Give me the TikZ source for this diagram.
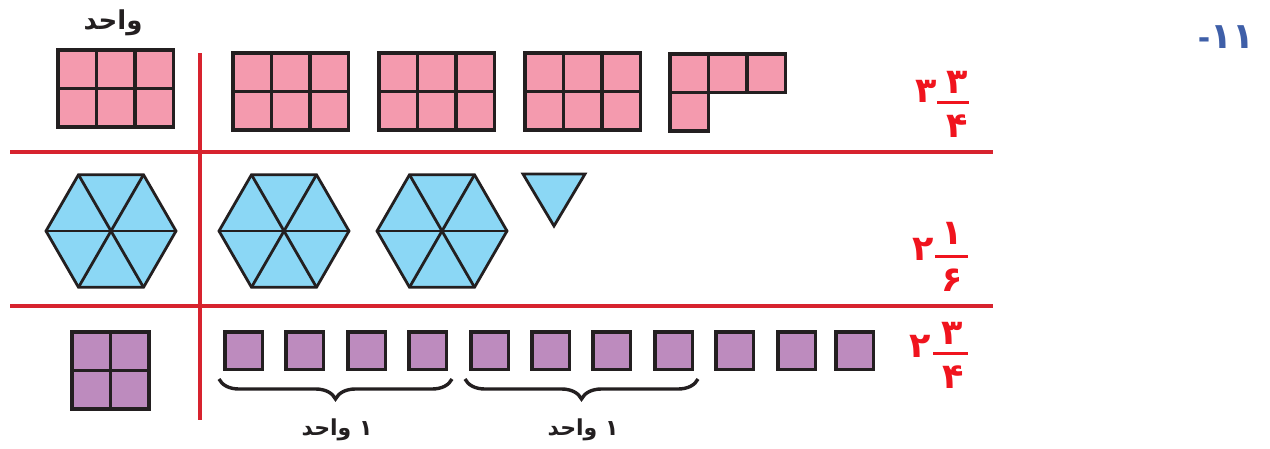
\documentclass[tikz,border=0pt]{standalone}
\usepackage{fontspec}
\setmainfont{DejaVu Sans}
\newfontfamily\arabicfont[Script=Arabic]{DejaVu Sans}
\TeXXeTstate=1
\usetikzlibrary{decorations.pathreplacing}

\definecolor{pinkfill}{HTML}{F49AAE}
\definecolor{bluefill}{HTML}{8BD7F5}
\definecolor{purplefill}{HTML}{BD8BBE}
\definecolor{ruleRed}{HTML}{D7232E}
\definecolor{fracRed}{HTML}{F0141E}
\definecolor{numBlue}{HTML}{3F5FA8}
\definecolor{ink}{HTML}{231F20}

\tikzset{
  cellbox/.style={draw=ink, line width=3.3pt, line join=miter},
  pinkcell/.style={cellbox, fill=pinkfill},
  purplecell/.style={cellbox, fill=purplefill},
  bluepiece/.style={draw=ink, line width=2.8pt, fill=bluefill, line join=miter},
  divider/.style={draw=ruleRed, line width=4pt},
  fracnum/.style={text=fracRed, font=\arabicfont\bfseries\fontsize{35}{35}\selectfont, inner sep=0pt},
  fracbar/.style={draw=fracRed, line width=3pt},
  wordlabel/.style={text=ink, inner sep=0pt},
  bracestyle/.style={draw=ink, line width=3.4pt,
    decorate, decoration={brace, mirror, amplitude=20pt}},
}

% a block of square cells: x, y (top-left), columns, rows, style
\newcommand{\cellblock}[5]{%
  \foreach \i in {1,...,#3}{%
    \foreach \j in {1,...,#4}{%
      \path[#5] ({#1+(\i-1)*38.5},{#2+(\j-1)*38.5}) rectangle ++(38.5,38.5);
    }%
  }%
}

% hexagon made of six triangles, centre and radius
\newcommand{\hexpiece}[3]{%
  \path[bluepiece] (#1,#2) ++(0:#3) -- ++(120:#3) -- ++(180:#3) -- ++(240:#3)
    -- ++(300:#3) -- ++(0:#3) -- cycle;
  \draw[draw=ink, line width=2.8pt] (#1,#2) ++(0:#3) -- ++(180:{2*#3});
  \draw[draw=ink, line width=2.8pt] (#1,#2) ++(60:#3) -- ++(240:{2*#3});
  \draw[draw=ink, line width=2.8pt] (#1,#2) ++(120:#3) -- ++(300:{2*#3});
}

\begin{document}
\begin{tikzpicture}[x=1pt, y=-1pt]
\useasboundingbox (0,0) rectangle (1270,448);

% exercise number
\node[text=numBlue, font=\bfseries\fontsize{30}{30}\selectfont, inner sep=0pt]
  (exno) at (1226,37) {-\arabicfont\fontsize{36}{36}\selectfont ۱۱};

% heading of the unit column
\node[wordlabel, font=\arabicfont\bfseries\fontsize{26}{26}\selectfont]
  (unitword) at (113,23) {\beginR واحد\endR};

% dividing lines
\coordinate (vtop) at (200,53);
\coordinate (vbot) at (200,420);
\coordinate (h1l) at (10,152);
\coordinate (h1r) at (993,152);
\coordinate (h2l) at (10,306);
\coordinate (h2r) at (993,306);
\draw[divider] (vtop) -- (vbot);
\draw[divider] (h1l) -- (h1r);
\draw[divider] (h2l) -- (h2r);

% row 1: rectangles of 6 cells
\cellblock{58}{50}{3}{2}{pinkcell}
\cellblock{233}{53}{3}{2}{pinkcell}
\cellblock{379}{53}{3}{2}{pinkcell}
\cellblock{525}{53}{3}{2}{pinkcell}
\cellblock{670}{54}{3}{1}{pinkcell}
\cellblock{670}{92.5}{1}{1}{pinkcell}

% row 2: hexagons and one triangle
\hexpiece{111}{231}{65}
\hexpiece{284}{231}{65}
\hexpiece{442}{231}{65}
\path[bluepiece] (523,174) -- (585,174) -- (554,226) -- cycle;

% row 3: squares of 4 cells and single cells
\cellblock{72}{332}{2}{2}{purplecell}
\foreach \x in {225,286,348,409,471,532,593,655,716,778,836}{
  \path[purplecell] (\x,332) rectangle ++(37.5,37.5);
}

% braces grouping four cells into one unit
\coordinate (b1l) at (219,379);
\coordinate (b1r) at (452,379);
\coordinate (b2l) at (465,379);
\coordinate (b2r) at (698,379);
\draw[bracestyle] (b1l) -- (b1r);
\draw[bracestyle] (b2l) -- (b2r);
\node[wordlabel, font=\arabicfont\bfseries\fontsize{22}{22}\selectfont]
  (unit1) at (337,430) {\beginR ۱ واحد\endR};
\node[wordlabel, font=\arabicfont\bfseries\fontsize{22}{22}\selectfont]
  (unit2) at (583,430) {\beginR ۱ واحد\endR};

% mixed numbers
\node[fracnum] (w1) at (926,91) {۳};
\node[fracnum] (n1) at (957,82) {۳};
\node[fracnum] (d1) at (957,126) {۴};
\coordinate (bar1l) at (937,102);
\coordinate (bar1r) at (969,102);
\draw[fracbar] (bar1l) -- (bar1r);

\node[fracnum] (w2) at (923,249) {۲};
\node[fracnum] (n2) at (952,233) {۱};
\node[fracnum] (d2) at (952,280) {۶};
\coordinate (bar2l) at (935,256);
\coordinate (bar2r) at (968,256);
\draw[fracbar] (bar2l) -- (bar2r);

\node[fracnum] (w3) at (920,346) {۲};
\node[fracnum] (n3) at (952,333) {۳};
\node[fracnum] (d3) at (953,377) {۴};
\coordinate (bar3l) at (933,353);
\coordinate (bar3r) at (968,353);
\draw[fracbar] (bar3l) -- (bar3r);
\end{tikzpicture}
\end{document}
